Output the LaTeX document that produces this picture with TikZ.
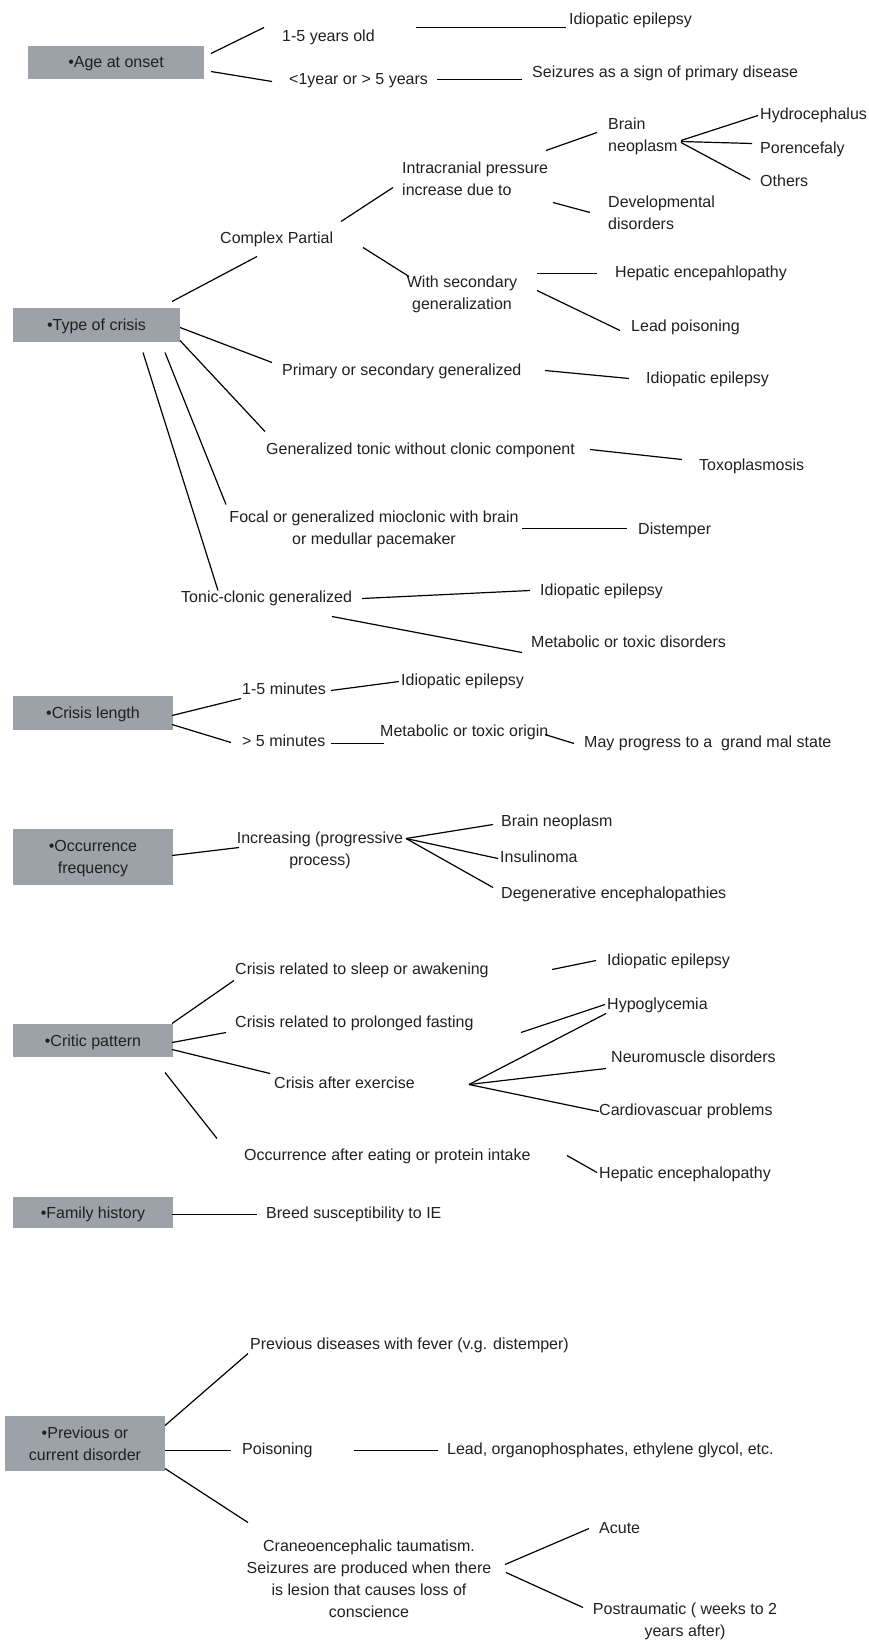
\documentclass[tikz,border=0pt]{standalone}
\usepackage{fontspec}
\setmainfont{Liberation Sans}
\definecolor{boxgray}{RGB}{156,162,167}
\definecolor{ink}{RGB}{35,31,32}
\begin{document}
\begin{tikzpicture}[x=1pt,y=-1pt,
  every node/.style={font=\fontsize{16}{22}\selectfont, text=ink, inner sep=0pt},
  cat/.style={fill=boxgray, minimum width=160pt, text height=11pt, text depth=0pt},
  catm/.style={fill=boxgray, align=center, minimum width=160pt, text depth=0pt},
  lbl/.style={anchor=west, text height=11pt, text depth=0pt},
  ml/.style={anchor=west, align=left, text depth=0pt},
  mc/.style={align=center, text depth=0pt},
  conn/.style={draw=black, line width=1.2pt}]
\useasboundingbox (0,0) rectangle (869,1643);

% ---------- Age at onset ----------
\node[cat, minimum width=176pt, minimum height=33pt] (age) at (116,62.5) {•Age at onset};
\node[lbl] (y15) at (282,36) {1-5 years old};
\node[lbl] (ie1) at (569,19) {Idiopatic epilepsy};
\node[lbl] (y1) at (289,79) {<1year or > 5 years};
\node[lbl] (sign) at (532,72) {Seizures as a sign of primary disease};

% ---------- Type of crisis ----------
\node[ml] (neo) at (608,135) {Brain\\neoplasm};
\node[ml] (icp) at (402,179) {Intracranial pressure\\increase due to};
\node[lbl] (hyd) at (760,114) {Hydrocephalus};
\node[lbl] (por) at (760,148) {Porencefaly};
\node[lbl] (oth) at (760,181) {Others};
\node[ml] (dev) at (608,213) {Developmental\\disorders};
\node[lbl] (cp) at (220,238) {Complex Partial};
\node[mc] (wsg) at (462,292.5) {With secondary\\generalization};
\node[lbl] (hep1) at (615,272) {Hepatic encepahlopathy};
\node[lbl] (lead) at (631,326) {Lead poisoning};
\node[cat, minimum width=167pt, minimum height=34pt] (type) at (96.5,325) {•Type of crisis};
\node[lbl] (prim) at (282,370) {Primary or secondary generalized};
\node[lbl] (ie2) at (646,378) {Idiopatic epilepsy};
\node[lbl] (gton) at (266,449) {Generalized tonic without clonic component};
\node[lbl] (toxo) at (699,465) {Toxoplasmosis};
\node[mc] (focal) at (374,527.5) {Focal or generalized mioclonic with brain\\or medullar pacemaker};
\node[lbl] (dist) at (638,529) {Distemper};
\node[lbl] (tcg) at (181,597) {Tonic-clonic generalized};
\node[lbl] (ie3) at (540,590) {Idiopatic epilepsy};
\node[lbl] (metab) at (531,642) {Metabolic or toxic disorders};

% ---------- Crisis length ----------
\node[cat, minimum height=34pt] (clen) at (93,713) {•Crisis length};
\node[lbl] (m15) at (242,689) {1-5 minutes};
\node[lbl] (ie4) at (401,680) {Idiopatic epilepsy};
\node[lbl] (m5) at (242,741) {> 5 minutes};
\node[lbl] (mto) at (380,731) {Metabolic or toxic origin};
\node[lbl] (may) at (584,742) {May progress to a\ \ grand mal state};

% ---------- Occurrence frequency ----------
\node[catm, minimum height=56pt] (occf) at (93,857) {•Occurrence\\frequency};
\node[mc] (inc) at (320,848.5) {Increasing (progressive\\process)};
\node[lbl] (bn) at (501,821) {Brain neoplasm};
\node[lbl] (ins) at (500,857) {Insulinoma};
\node[lbl] (deg) at (501,893) {Degenerative encephalopathies};

% ---------- Critic pattern ----------
\node[cat, minimum height=33pt] (crit) at (93,1040.5) {•Critic pattern};
\node[lbl] (sleep) at (235,969) {Crisis related to sleep or awakening};
\node[lbl] (ie5) at (607,960) {Idiopatic epilepsy};
\node[lbl] (fast) at (235,1022) {Crisis related to prolonged fasting};
\node[lbl] (hypo) at (607,1004) {Hypoglycemia};
\node[lbl] (exer) at (274,1083) {Crisis after exercise};
\node[lbl] (neuro) at (611,1057) {Neuromuscle disorders};
\node[lbl] (cardio) at (599,1110) {Cardiovascuar problems};
\node[lbl] (occ) at (244,1155) {Occurrence after eating or protein intake};
\node[lbl] (hep2) at (599,1173) {Hepatic encephalopathy};

% ---------- Family history ----------
\node[cat, minimum height=31pt] (fam) at (93,1212.5) {•Family history};
\node[lbl] (breed) at (266,1213) {Breed susceptibility to IE};

% ---------- Previous or current disorder ----------
\node[catm, minimum height=55pt] (prevbox) at (85,1443.5) {•Previous or\\current disorder};
\node[lbl] (prev) at (250,1344) {Previous diseases with fever (v.g. distemper)};
\node[lbl] (pois) at (242,1449) {Poisoning};
\node[lbl] (lorg) at (447,1449) {Lead, organophosphates, ethylene glycol, etc.};
\node[mc] (cran) at (369,1578.5) {Craneoencephalic taumatism.\\Seizures are produced when there\\is lesion that causes loss of\\conscience};
\node[lbl] (acute) at (599,1528) {Acute};
\node[mc] (post) at (685,1619.5) {Postraumatic ( weeks to 2\\years after)};

% ---------- connector end points ----------
\begin{scope}[yshift=-1.5pt]
\path
 (211,52) coordinate (k1a)  (264,26) coordinate (k1b)
 (416,26) coordinate (k2a)  (566,26) coordinate (k2b)
 (211,70) coordinate (k3a)  (272,80) coordinate (k3b)
 (437,78) coordinate (k4a)  (522,78) coordinate (k4b)
 (546,149) coordinate (k5a) (597,131) coordinate (k5b)
 (681,139) coordinate (k6a) (758,114) coordinate (k6b)
 (681,140) coordinate (k7a) (752,142) coordinate (k7b)
 (681,141) coordinate (k8a) (750,178) coordinate (k8b)
 (553,201) coordinate (k9a) (590,211) coordinate (k9b)
 (341,220) coordinate (k10a) (393,186) coordinate (k10b)
 (363,246) coordinate (k11a) (409,275) coordinate (k11b)
 (537,272) coordinate (k12a) (597,272) coordinate (k12b)
 (537,289) coordinate (k13a) (620,329) coordinate (k13b)
 (172,300) coordinate (k14a) (257,255) coordinate (k14b)
 (180,326) coordinate (k15a) (272,361) coordinate (k15b)
 (545,369) coordinate (k16a) (629,377) coordinate (k16b)
 (180,339) coordinate (k17a) (265,430) coordinate (k17b)
 (590,448) coordinate (k18a) (682,458) coordinate (k18b)
 (165,351) coordinate (k19a) (226,503) coordinate (k19b)
 (522,527) coordinate (k20a) (627,527) coordinate (k20b)
 (143,351) coordinate (k21a) (218,589) coordinate (k21b)
 (362,597) coordinate (k22a) (530,589) coordinate (k22b)
 (332,615) coordinate (k23a) (522,651) coordinate (k23b)
 (172,714) coordinate (k24a) (241,697) coordinate (k24b)
 (331,689) coordinate (k25a) (399,680) coordinate (k25b)
 (172,723) coordinate (k26a) (231,741) coordinate (k26b)
 (331,742) coordinate (k27a) (384,742) coordinate (k27b)
 (545,733) coordinate (k28a) (574,742) coordinate (k28b)
 (172,854) coordinate (k29a) (239,846) coordinate (k29b)
 (406,837) coordinate (hubinc)
 (493,823) coordinate (k30b) (498,857) coordinate (k31b) (493,886) coordinate (k32b)
 (172,1022) coordinate (k33a) (234,979) coordinate (k33b)
 (552,968) coordinate (k34a) (596,959) coordinate (k34b)
 (172,1041) coordinate (k35a) (226,1031) coordinate (k35b)
 (521,1031) coordinate (k36a) (605,1003) coordinate (k36b)
 (172,1048) coordinate (k37a) (270,1072) coordinate (k37b)
 (469,1083) coordinate (hubex)
 (606,1012) coordinate (k38b) (606,1067) coordinate (k39b) (599,1110) coordinate (k40b)
 (165,1071) coordinate (k41a) (217,1137) coordinate (k41b)
 (567,1154) coordinate (k42a) (597,1171) coordinate (k42b)
 (172,1213) coordinate (k43a) (257,1213) coordinate (k43b)
 (165,1424) coordinate (k44a) (248,1352) coordinate (k44b)
 (165,1449) coordinate (k45a) (231,1449) coordinate (k45b)
 (354,1449) coordinate (k46a) (438,1449) coordinate (k46b)
 (165,1467) coordinate (k47a) (248,1521) coordinate (k47b)
 (505,1563) coordinate (k48a) (589,1527) coordinate (k48b)
 (506,1571) coordinate (k49a) (583,1606) coordinate (k49b);
\end{scope}

% ---------- connectors ----------
\foreach \i in {1,...,29,33,34,35,36,37,41,42,43,44,45,46,47,48,49}
  \draw[conn] (k\i a) -- (k\i b);
\foreach \i in {30,31,32}
  \draw[conn] (hubinc) -- (k\i b);
\foreach \i in {38,39,40}
  \draw[conn] (hubex) -- (k\i b);
\end{tikzpicture}
\end{document}
